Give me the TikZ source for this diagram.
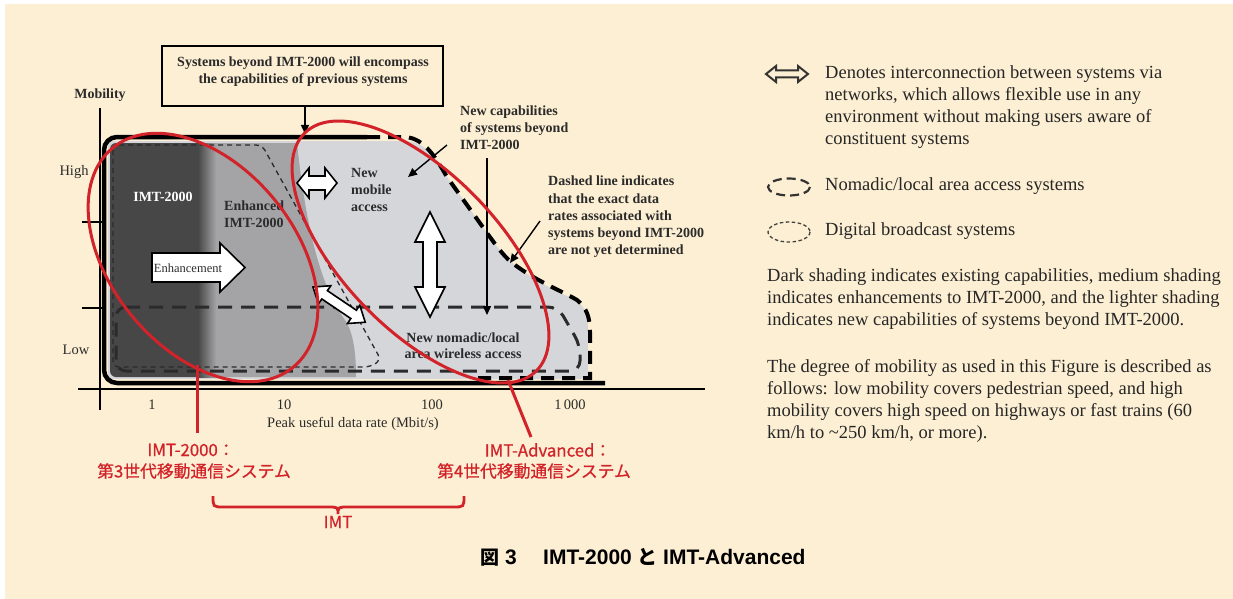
\documentclass[tikz,border=0pt]{standalone}
\usepackage{fontspec}
\setmainfont{Liberation Serif}
\newfontfamily\jp{Noto Sans CJK JP}
\newfontfamily\jpm{Noto Sans CJK JP}[FakeBold=0.7]
\newfontfamily\lsans{Liberation Sans}
\usetikzlibrary{arrows.meta}
\definecolor{cream}{HTML}{FDEFD3}
\definecolor{redl}{HTML}{D2232A}
\definecolor{darkg}{HTML}{474747}
\definecolor{medg}{HTML}{A4A4A6}
\definecolor{lightg}{HTML}{D4D6DA}
\definecolor{ink}{HTML}{2B2B2B}
\tikzset{
  chartb/.style={font=\fontsize{14}{17}\selectfont\bfseries, text=ink, inner sep=0pt},
  chartr/.style={font=\fontsize{14.5}{17}\selectfont, text=ink, inner sep=0pt},
  legtxt/.style={font=\fontsize{18.5}{22}\selectfont, text=black!85, inner sep=0pt, align=left, anchor=west},
  blockarr/.style={draw=black, line width=1.6, fill=white, line join=miter},
  redline/.style={draw=redl, line width=3},
  redtxt/.style={font=\jpm\fontsize{16.8}{20}\selectfont, text=redl, inner sep=0pt},
  captxt/.style={inner sep=0pt, anchor=base west},
  thinarr/.style={draw=black, line width=1.4, -{Triangle[length=9pt,width=8pt]}}
}
\begin{document}
\begin{tikzpicture}[x=1pt,y=-1pt]
\useasboundingbox (0,0) rectangle (1233,599);
\fill[white] (0,0) rectangle (1233,599);
\fill[cream] (5,4) rectangle (1233,599);

% ---- shaded regions ----
\fill[lightg] (120,141) -- (405,141) .. controls (425,141) and (438,160) .. (447,177) -- (487,233)
  .. controls (498,248) and (505,258) .. (515,265) .. controls (540,285) and (560,292) .. (575,300)
  .. controls (585,306) and (588,315) .. (588,330) -- (588,372) .. controls (588,378) .. (580,379)
  -- (118,379) .. controls (108,379) .. (108,369) -- (108,152) .. controls (108,141) .. (120,141) -- cycle;
\fill[darkg, rounded corners=6] (110,143) rectangle (208,377);
\fill[medg] (206,143) -- (297,143) .. controls (303,200) and (315,280) .. (345,320)
  .. controls (355,335) and (356,360) .. (356,377) -- (206,377) -- cycle;
\shade[left color=darkg, right color=medg] (198,143) rectangle (216,377);

% ---- system outlines ----
\draw[ink, line width=1.3, dash pattern=on 5pt off 4pt, rounded corners=6]
  (113,145) -- (262,145) -- (381,360) -- (370,367) -- (113,367) -- cycle;
\draw[ink, line width=3, dash pattern=on 14pt off 9pt, rounded corners=10]
  (116,307) -- (558,307) -- (580,345) -- (580,371) -- (116,371) -- cycle;
\draw[black, line width=4, dash pattern=on 13pt off 8pt]
  (367,137) -- (405,137) .. controls (425,138) and (437,160) .. (447,177) -- (487,233)
  .. controls (498,248) and (505,258) .. (515,265) .. controls (538,282) and (560,290) .. (577,300)
  .. controls (587,308) and (590,318) .. (590,332) -- (590,378) -- (470,378);
\draw[black, line width=4.5, rounded corners=13] (367,137) -- (104,137) -- (104,383) -- (605,383);

% ---- axes ----
\draw[black, line width=2.2] (100,108) -- (100,410);
\draw[black, line width=2] (78,389) -- (705,389);
\draw[black, line width=2.2] (82,222) -- (102,222);
\draw[black, line width=2.2] (82,308) -- (102,308);
\node[chartb] (mob) at (100,95) {Mobility};
\node[chartr] (high) at (74,172) {High};
\node[chartr] (low) at (76,350) {Low};
\node[chartr] (t1) at (152,405) {1};
\node[chartr] (t10) at (284,405) {10};
\node[chartr] (t100) at (432,405) {100};
\node[chartr] (t1000) at (570,405) {1\,000};
\node[chartr] (xlab) at (353,424) {Peak useful data rate (Mbit/s)};

% ---- top box ----
\node[draw=black, line width=1.8, minimum width=281, minimum height=60, inner sep=0pt] (topbox) at (302.5,76) {};
\node[chartb, align=center] (topboxtxt) at (303,72) {Systems beyond IMT-2000 will encompass\\the capabilities of previous systems};
\coordinate (topend) at (305,134);
\draw[thinarr] (topbox.south -| topend) -- (topend);

% ---- block arrows ----
\draw[blockarr] (152,253) -- (220,253) -- (220,243) -- (245,267.5) -- (220,292) -- (220,282) -- (152,282) -- cycle;
\node[font=\fontsize{12.5}{14}\selectfont, text=ink, inner sep=0pt] (enhtxt) at (188,268) {Enhancement};
\begin{scope}[shift={(297,183)}]
\draw[blockarr] (0,0) -- (12,-15) -- (12,-7) -- (28,-7) -- (28,-15) -- (40,0) -- (28,15) -- (28,7) -- (12,7) -- (12,15) -- cycle;
\end{scope}
\draw[blockarr] (430,212) -- (445,242) -- (437,242) -- (437,287) -- (445,287) -- (430,317) -- (415,287) -- (423,287) -- (423,242) -- (415,242) -- cycle;
\begin{scope}[shift={(313,287)}, rotate=-34]
\draw[blockarr] (0,0) -- (14,-11) -- (14,-5) -- (49,-5) -- (49,-11) -- (63,0) -- (49,11) -- (49,5) -- (14,5) -- (14,11) -- cycle;
\end{scope}

% ---- chart labels ----
\node[chartb, text=white] (imt) at (163,197) {IMT-2000};
\node[chartb, align=left, anchor=west] (enh) at (224,214) {Enhanced\\IMT-2000};
\node[chartb, align=left, anchor=west] (nma) at (351,190) {New\\mobile\\access};
\node[font=\fontsize{14}{16}\selectfont\bfseries, text=ink, inner sep=0pt, align=center] (nnl) at (463,346) {New nomadic/local\\area wireless access};
\node[chartb, align=left, anchor=west] (nc) at (460,128) {New capabilities\\of systems beyond\\IMT-2000};
\begin{scope}
\clip (0,0) rectangle (704,599);
\node[chartb, font=\fontsize{14}{17.2}\selectfont\bfseries, align=left, anchor=west] (dl) at (548,217) {Dashed line indicates\\that the exact data\\rates associated with\\systems beyond IMT-2000\\are not yet determined};
\end{scope}
\coordinate (nca) at (447,145);
\coordinate (ncb) at (408,177);
\draw[thinarr] (nca) -- (ncb);
\coordinate (vla) at (487,158);
\coordinate (vlb) at (487,315);
\draw[thinarr] (vla) -- (vlb);
\coordinate (dla) at (540,221);
\coordinate (dlb) at (510,263);
\draw[thinarr] (dla) -- (dlb);

% ---- red annotations ----
\draw[redline, rotate around={-50.5:(203,257.5)}] (203,257.5) ellipse [x radius=142, y radius=92];
\draw[redline, rotate around={-45.9:(420.5,252)}] (420.5,252) ellipse [x radius=166, y radius=78];
\node[redtxt] (l2000a) at (191,450) {IMT-2000：};
\node[redtxt] (l2000b) at (194,471) {第3世代移動通信システム};
\node[redtxt] (ladva) at (548,450) {IMT-Advanced：};
\node[redtxt] (ladvb) at (534,471) {第4世代移動通信システム};
\coordinate (rl1a) at (197,365);
\coordinate (rl1b) at (197,433);
\draw[redline] (rl1a) -- (rl1b);
\coordinate (rl2a) at (508,380);
\coordinate (rl2b) at (531,437);
\draw[redline] (rl2a) -- (rl2b);
\draw[redline, line width=2.8] (213,496) .. controls (213,507) .. (224,507) -- (327,507)
  .. controls (338,507) .. (338,514) .. controls (338,507) .. (349,507) -- (453,507) .. controls (464,507) .. (464,496);
\node[redtxt] (imtb) at (338,522) {IMT};

% ---- legend ----
\begin{scope}[shift={(766,74)}]
\draw[draw=black!80, line width=2, fill=cream, line join=miter] (0,0) -- (10,-8) -- (10,-3.5) -- (32,-3.5) -- (32,-8) -- (42,0) -- (32,8) -- (32,3.5) -- (10,3.5) -- (10,8) -- cycle;
\end{scope}
\draw[black!80, line width=2.2, dash pattern=on 9pt off 5pt] (789,187) ellipse [x radius=21, y radius=8.5];
\draw[black!75, line width=1.3, dash pattern=on 3.5pt off 2.5pt] (789,232) ellipse [x radius=21, y radius=10];
\node[legtxt] (leg1) at (825,107) {Denotes interconnection between systems via\\networks, which allows flexible use in any\\environment without making users aware of\\constituent systems};
\node[legtxt] (leg2) at (825,186) {Nomadic/local area access systems};
\node[legtxt] (leg3) at (825,231) {Digital broadcast systems};
\node[legtxt] (par1) at (767,299) {Dark shading indicates existing capabilities, medium shading\\indicates enhancements to IMT-2000, and the lighter shading\\indicates new capabilities of systems beyond IMT-2000.};
\node[legtxt] (par2) at (767,400.5) {The degree of mobility as used in this Figure is described as\\follows: low mobility covers pedestrian speed, and high\\mobility covers high speed on highways or fast trains (60\\km/h to \textasciitilde250 km/h, or more).};

% ---- caption ----
\node[captxt, font=\jp\bfseries\fontsize{19}{22}\selectfont] (cap1) at (480,564) {図};
\node[captxt, font=\lsans\bfseries\fontsize{21}{24}\selectfont] (cap2) at (505,564) {3};
\node[captxt, font=\lsans\bfseries\fontsize{21}{24}\selectfont] (cap3) at (543,564) {IMT-2000};
\node[captxt, font=\jp\bfseries\fontsize{20}{24}\selectfont] (cap4) at (637,564) {と};
\node[captxt, font=\lsans\bfseries\fontsize{21}{24}\selectfont] (cap5) at (663,564) {IMT-Advanced};
\end{tikzpicture}
\end{document}
